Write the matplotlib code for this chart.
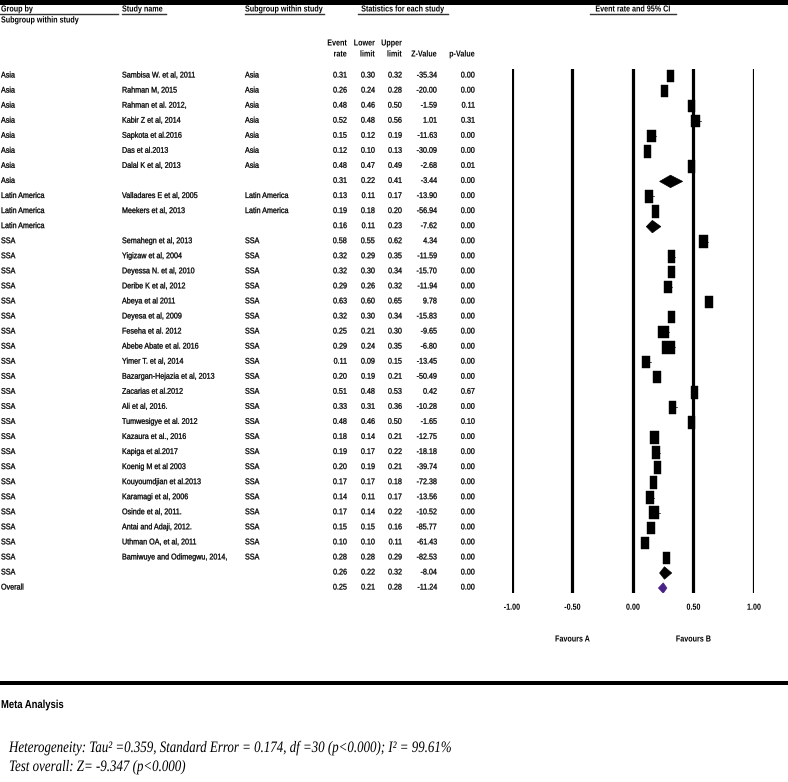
import matplotlib
matplotlib.use("Agg")
import matplotlib.pyplot as plt
from matplotlib.transforms import blended_transform_factory, Affine2D
from matplotlib.patches import Rectangle, Polygon
from matplotlib.patheffects import AbstractPathEffect

# ---------------- data ----------------
groups = ["Asia"] * 8 + ["Latin America"] * 3 + ["SSA"] * 23 + ["Overall"]
studies = [
    "Sambisa W. et al, 2011", "Rahman M, 2015", "Rahman et al. 2012,", "Kabir Z et al, 2014",
    "Sapkota et al.2016", "Das et al.2013", "Dalal K et al, 2013", "",
    "Valladares E et al, 2005", "Meekers et al, 2013", "",
    "Semahegn et al, 2013", "Yigizaw et al, 2004", "Deyessa N. et al, 2010", "Deribe K et al, 2012",
    "Abeya et al 2011", "Deyesa et al, 2009", "Feseha et al. 2012", "Abebe Abate et al. 2016",
    "Yimer T. et al, 2014", "Bazargan-Hejazia et al, 2013", "Zacarias et al.2012", "Ali et al, 2016.",
    "Tumwesigye et al. 2012", "Kazaura et al., 2016", "Kapiga et al.2017", "Koenig M et al 2003",
    "Kouyoumdjian et al.2013", "Karamagi et al, 2006", "Osinde et al, 2011.", "Antai and Adaji, 2012.",
    "Uthman OA, et al, 2011", "Bamiwuye and Odimegwu, 2014,", "",
    "",
]
subgroups = (["Asia"] * 7 + [""] + ["Latin America"] * 2 + [""] + ["SSA"] * 22 + [""] + [""])
is_summary = [s == "" for s in studies]

event_rate = [0.31, 0.26, 0.48, 0.52, 0.15, 0.12, 0.48, 0.31,
              0.13, 0.19, 0.16,
              0.58, 0.32, 0.32, 0.29, 0.63, 0.32, 0.25, 0.29, 0.11, 0.20, 0.51, 0.33,
              0.48, 0.18, 0.19, 0.20, 0.17, 0.14, 0.17, 0.15, 0.10, 0.28, 0.26,
              0.25]
lower_limit = [0.30, 0.24, 0.46, 0.48, 0.12, 0.10, 0.47, 0.22,
               0.11, 0.18, 0.11,
               0.55, 0.29, 0.30, 0.26, 0.60, 0.30, 0.21, 0.24, 0.09, 0.19, 0.48, 0.31,
               0.46, 0.14, 0.17, 0.19, 0.17, 0.11, 0.14, 0.15, 0.10, 0.28, 0.22,
               0.21]
upper_limit = [0.32, 0.28, 0.50, 0.56, 0.19, 0.13, 0.49, 0.41,
               0.17, 0.20, 0.23,
               0.62, 0.35, 0.34, 0.32, 0.65, 0.34, 0.30, 0.35, 0.15, 0.21, 0.53, 0.36,
               0.50, 0.21, 0.22, 0.21, 0.18, 0.17, 0.22, 0.16, 0.11, 0.29, 0.32,
               0.28]
z_value = [-35.34, -20.00, -1.59, 1.01, -11.63, -30.09, -2.68, -3.44,
           -13.90, -56.94, -7.62,
           4.34, -11.59, -15.70, -11.94, 9.78, -15.83, -9.65, -6.80, -13.45, -50.49, 0.42, -10.28,
           -1.65, -12.75, -18.18, -39.74, -72.38, -13.56, -10.52, -85.77, -61.43, -82.53, -8.04,
           -11.24]
p_value = [0.00, 0.00, 0.11, 0.31, 0.00, 0.00, 0.01, 0.00,
           0.00, 0.00, 0.00,
           0.00, 0.00, 0.00, 0.00, 0.00, 0.00, 0.00, 0.00, 0.00, 0.00, 0.67, 0.00,
           0.10, 0.00, 0.00, 0.00, 0.00, 0.00, 0.00, 0.00, 0.00, 0.00, 0.00,
           0.00]
# relative study weight (box size)
box_weight = [7, 7, 7, 9, 9, 7, 7, 0,
              8, 7, 0,
              9, 7, 7, 8, 8, 7, 11, 13, 8, 8, 7, 7,
              7, 9, 8, 7, 7, 8, 10, 8, 8, 7, 0,
              0]
x_ticks = [-1.0, -0.5, 0.0, 0.5, 1.0]
favours = ["Favours A", "Favours B"]


# ---------------- narrow text effect ----------------
class Squeeze(AbstractPathEffect):
    """Draw text horizontally condensed (the reference uses a narrow face)."""

    def __init__(self, sx=0.82, anchor="left", stroke=0.0):
        super().__init__()
        self.sx = sx
        self.anchor = anchor
        self.stroke = stroke

    def draw_path(self, renderer, gc, tpath, affine, rgbFace=None):
        ext = tpath.get_extents()
        if self.anchor == "right":
            x0 = ext.x1
        elif self.anchor == "center":
            x0 = (ext.x0 + ext.x1) / 2
        else:
            x0 = 0
        t = Affine2D().translate(-x0, 0).scale(self.sx, 1).translate(x0, 0) + affine
        if self.stroke > 0 and rgbFace is not None:
            gc0 = renderer.new_gc()
            gc0.copy_properties(gc)
            gc0.set_linewidth(self.stroke)
            gc0.set_foreground(rgbFace)
            renderer.draw_path(gc0, tpath, t, rgbFace)
            gc0.restore()
        else:
            renderer.draw_path(gc, tpath, t, rgbFace)


SANS = "Liberation Sans"
SERIF = "Liberation Serif"
SX = 0.82


def txt(axis, x, y, s, ha="left", sx=SX, stroke=0.0, **kw):
    return axis.text(x, y, s, ha=ha, path_effects=[Squeeze(sx, ha, stroke)], **kw)


W, H = 788, 782
fig = plt.figure(figsize=(W / 100, H / 100), dpi=100)
fig.patch.set_facecolor("white")

bg = fig.add_axes([0, 0, 1, 1])
bg.set_xlim(0, W)
bg.set_ylim(H, 0)
bg.axis("off")

# forest axes
row0_px, row_step = 76, 15.06
top_px, bot_px = 69, 593
left_px, right_px = 512, 754
ax = fig.add_axes([left_px / W, 1 - bot_px / H, (right_px - left_px) / W, (bot_px - top_px) / H])
ax.set_xlim(-1, 1)
ax.set_ylim((bot_px - row0_px) / row_step, (top_px - row0_px) / row_step)
for s in ax.spines.values():
    s.set_visible(False)
ax.set_facecolor("none")
ax.set_yticks([])
ax.set_xticks(x_ticks)
ax.set_xticklabels([f"{t:.2f}" for t in x_ticks], fontfamily=SANS, fontweight="bold", fontsize=6.3)
for lab in ax.get_xticklabels():
    lab.set_path_effects([Squeeze(SX, "center")])
ax.tick_params(axis="x", length=0, pad=7)
for t in x_ticks:
    ax.axvline(t, color="black", lw=2.3, zorder=1)

px_x = (right_px - left_px) / 2.0  # pixels per unit
n = len(event_rate)
for i in range(n):
    if is_summary[i]:
        hh = 6.2 / row_step if i != n - 1 else 5.2 / row_step
        col = "black" if i != n - 1 else "#4a2287"
        poly = Polygon([(lower_limit[i], i), (event_rate[i], i - hh), (upper_limit[i], i),
                        (event_rate[i], i + hh)], closed=True, facecolor=col, edgecolor=col,
                       lw=0.5, zorder=3)
        ax.add_patch(poly)
    else:
        ax.plot([lower_limit[i], upper_limit[i]], [i, i], color="black", lw=0.5, zorder=2)
        w = box_weight[i] / px_x
        h = max(box_weight[i], 12.5) / row_step
        ax.add_patch(Rectangle((event_rate[i] - w / 2, i - h / 2), w, h, facecolor="black",
                               edgecolor="black", lw=0.3, zorder=3))

# ---------------- header ----------------
bg.add_patch(Rectangle((0, 0), W, 5, facecolor="black", edgecolor="none"))
hdr = dict(fontfamily=SANS, fontweight="bold", fontsize=6.3, va="center", color="black")
txt(bg, 1, 9, "Group by", **hdr)
txt(bg, 1, 20, "Subgroup within study", **hdr)
txt(bg, 122, 9, "Study name", **hdr)
txt(bg, 245, 9, "Subgroup within study", **hdr)
txt(bg, 403, 9, "Statistics for each study", ha="center", **hdr)
txt(bg, 633, 9, "Event rate and 95% CI", ha="center", **hdr)
for x0, x1 in [(0, 118), (122, 166), (245, 324), (358, 448), (590, 676)]:
    bg.plot([x0, x1], [14, 14], color="#333333", lw=1.0)

col_right = [347, 375, 402, 437, 475]
col_hdr = [("Event", "rate"), ("Lower", "limit"), ("Upper", "limit"), ("", "Z-Value"), ("", "p-Value")]
for xr, (a, b) in zip(col_right, col_hdr):
    if a:
        txt(bg, xr, 43, a, ha="right", **hdr)
    txt(bg, xr, 54, b, ha="right", **hdr)

# ---------------- table rows ----------------
tr = blended_transform_factory(bg.transData, ax.transData)
ROW_FS, ROW_SX = 5.9, 0.876
cell = dict(fontfamily=SANS, fontsize=ROW_FS, va="center", color="black", transform=tr)
for i in range(n):
    txt(bg, 1, i, groups[i], sx=ROW_SX, stroke=0.2, **cell)
    txt(bg, 122, i, studies[i], sx=ROW_SX, stroke=0.2, **cell)
    txt(bg, 245, i, subgroups[i], sx=ROW_SX, stroke=0.2, **cell)
    vals = [event_rate[i], lower_limit[i], upper_limit[i], z_value[i], p_value[i]]
    for xr, v in zip(col_right, vals):
        txt(bg, xr, i, f"{v:.2f}", ha="right", sx=ROW_SX, stroke=0.2, **cell)

# favours labels
ftr = blended_transform_factory(ax.transData, bg.transData)
for xv, lab in zip([-0.5, 0.5], favours):
    txt(bg, xv, 639, lab, ha="center", va="center", fontfamily=SANS, fontweight="bold",
        fontsize=6.3, transform=ftr)

# ---------------- footer ----------------
bg.add_patch(Rectangle((0, 681), W, 3.5, facecolor="black", edgecolor="none"))
txt(bg, 1, 705, "Meta Analysis", va="center", fontfamily=SANS, fontweight="bold", fontsize=8.3)
txt(bg, 9, 748, "Heterogeneity: Tau² =0.359, Standard Error = 0.174, df =30 (p<0.000); I² = 99.61%",
    va="center", fontfamily=SERIF, fontstyle="italic", fontsize=11.5, sx=0.81)
txt(bg, 9, 767, "Test overall: Z= -9.347 (p<0.000)",
    va="center", fontfamily=SERIF, fontstyle="italic", fontsize=11.5, sx=0.81)

fig.savefig("out.png", dpi=100, facecolor="white")
